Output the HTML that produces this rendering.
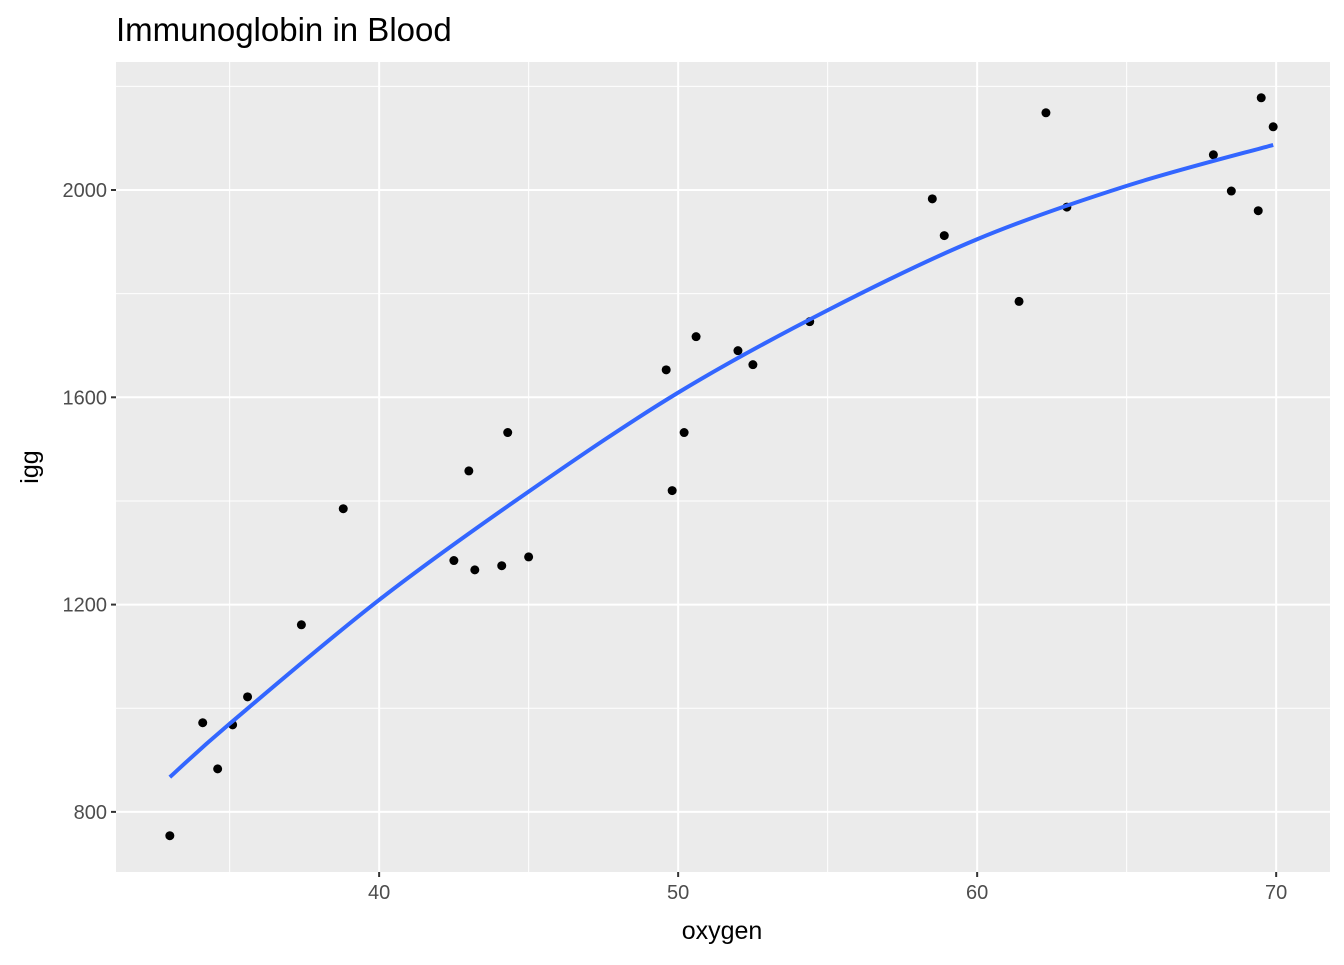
<!DOCTYPE html>
<html><head><meta charset="utf-8"><style>
body{margin:0;background:#fff;font-family:"Liberation Sans",Arial,sans-serif}
</style></head><body>
<svg id="chart" width="1344" height="960" xmlns="http://www.w3.org/2000/svg">
<text x="116" y="41" font-size="33" fill="#000">Immunoglobin in Blood</text>
<rect x="116" y="62" width="1214" height="810" fill="#ebebeb"/>
<g id="grid"></g><g id="marks"></g><g id="axes"></g>
<text x="722" y="939" font-size="25" text-anchor="middle">oxygen</text>
<text transform="translate(38,467) rotate(-90)" font-size="25" text-anchor="middle">igg</text>
</svg>
<script>
const oxygen=[33.0,34.1,34.6,35.1,35.6,37.4,38.8,42.5,43.0,43.2,44.1,44.3,45.0,49.6,49.8,50.2,50.6,52.0,52.5,54.4,58.5,58.9,61.4,62.3,63.0,67.9,68.5,69.4,69.5,69.9];
const igg=[754,972,883,968,1022,1161,1385,1285,1458,1267,1275,1532,1292,1653,1420,1532,1717,1690,1663,1746,1983,1912,1785,2149,1967,2068,1998,1960,2178,2122];
const smoothX=[33,35,40,45,50,55,60,65,69.9];
const smoothY=[867,970,1209,1418,1609,1768,1905,2008,2087];
const xMajor=[40,50,60,70];
const xMinor=[35,45,55,65];
const yMajor=[800,1200,1600,2000];
const yMinor=[1000,1400,1800,2200];
const X0=116,X1=1330,Y0=872,Y1=62,xmin=31.2,xmax=71.8,ymin=684,ymax=2247;
const sx=v=>X0+(v-xmin)/(xmax-xmin)*(X1-X0);
const sy=v=>Y0-(v-ymin)/(ymax-ymin)*(Y0-Y1);
const NS="http://www.w3.org/2000/svg";
function mk(t,a,p){const e=document.createElementNS(NS,t);for(const k in a)e.setAttribute(k,a[k]);p.appendChild(e);return e;}
const grid=document.getElementById('grid'),marks=document.getElementById('marks'),axes=document.getElementById('axes');
xMinor.forEach(v=>{const l=mk('line',{x1:sx(v),x2:sx(v),y1:Y1,y2:Y0,stroke:'#fff','stroke-width':1},grid);

});
yMinor.forEach(v=>{const l=mk('line',{x1:X0,x2:X1,y1:sy(v),y2:sy(v),stroke:'#fff','stroke-width':1},grid);

});
xMajor.forEach(v=>{const l=mk('line',{x1:sx(v),x2:sx(v),y1:Y1,y2:Y0,stroke:'#fff','stroke-width':2},grid);


const t=mk('line',{x1:sx(v),x2:sx(v),y1:Y0,y2:Y0+5,stroke:'#333','stroke-width':2},axes);


const tx=mk('text',{x:sx(v),y:Y0+27,'font-size':20,fill:'#4d4d4d','text-anchor':'middle'},axes);tx.textContent=v;

});
yMajor.forEach(v=>{const l=mk('line',{x1:X0,x2:X1,y1:sy(v),y2:sy(v),stroke:'#fff','stroke-width':2},grid);


const t=mk('line',{x1:X0-5,x2:X0,y1:sy(v),y2:sy(v),stroke:'#333','stroke-width':2},axes);


const tx=mk('text',{x:X0-9,y:sy(v)+7,'font-size':20,fill:'#4d4d4d','text-anchor':'end'},axes);tx.textContent=v;

});
oxygen.forEach((v,i)=>{const c=mk('circle',{cx:sx(v),cy:sy(igg[i]),r:4.5,fill:'#000'},marks);

});
const pts=[];smoothX.forEach((v,i)=>pts.push([sx(v),sy(smoothY[i])]));
let d='M'+pts[0][0]+','+pts[0][1];
for(let i=0;i<pts.length-1;i++){const p0=pts[Math.max(0,i-1)],p1=pts[i],p2=pts[i+1],p3=pts[Math.min(pts.length-1,i+2)];
d+=' C'+(p1[0]+(p2[0]-p0[0])/6)+','+(p1[1]+(p2[1]-p0[1])/6)+' '+(p2[0]-(p3[0]-p1[0])/6)+','+(p2[1]-(p3[1]-p1[1])/6)+' '+p2[0]+','+p2[1];}
const sm=mk('path',{d:d,fill:'none',stroke:'#3366ff','stroke-width':4},marks);


</script>
</body></html>
